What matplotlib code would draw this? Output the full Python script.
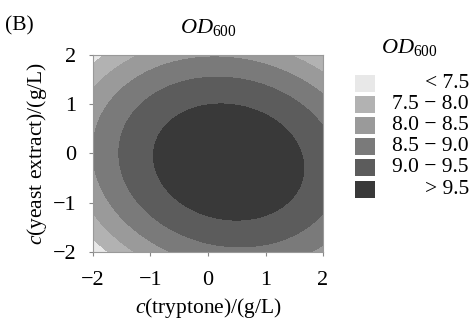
import numpy as np
import matplotlib
matplotlib.use("Agg")
import matplotlib.pyplot as plt

plt.rcParams['font.family'] = ['Liberation Serif', 'DejaVu Serif']
plt.rcParams['mathtext.fontset'] = 'custom'
plt.rcParams['mathtext.rm'] = 'Liberation Serif'
plt.rcParams['mathtext.it'] = 'Liberation Serif:italic'

# response surface coefficients (coded levels)
b0 = 9.90
b_tryp = 0.177
b_yeast = -0.09
b_tryp2 = -0.26
b_yeast2 = -0.32
b_inter = -0.06

levels = [6.0, 7.5, 8.0, 8.5, 9.0, 9.5, 11.0]
band_colors = ['#e8e8e8', '#b2b2b2', '#9a9a9a', '#7a7a7a', '#5c5c5c', '#393939']
band_labels = ['< 7.5', '7.5 \u2212 8.0', '8.0 \u2212 8.5', '8.5 \u2212 9.0',
               '9.0 \u2212 9.5', '> 9.5']
ticks = [-2, -1, 0, 1, 2]

tryptone = np.linspace(-2, 2, 201)
yeast = np.linspace(-2, 2, 201)
X, Y = np.meshgrid(tryptone, yeast)
OD = (b0 + b_tryp * X + b_yeast * Y + b_tryp2 * X**2 + b_yeast2 * Y**2
      + b_inter * X * Y)

fig = plt.figure(figsize=(4.73, 3.21), dpi=100)
ax = fig.add_axes([0.1966, 0.215, 0.4863, 0.614])
ax.contourf(X, Y, OD, levels=levels, colors=band_colors)
ax.set_xlim(-2, 2)
ax.set_ylim(-2, 2)
ax.set_xticks(ticks)
ax.set_yticks(ticks)
ax.set_xticklabels(['\u2212%d' % -t if t < 0 else str(t) for t in ticks])
ax.set_yticklabels(['\u2212%d' % -t if t < 0 else str(t) for t in ticks])
ax.tick_params(direction='out', length=3, width=0.8, color='#888888',
               labelsize=16)
ax.tick_params(axis='x', pad=11)
ax.tick_params(axis='y', pad=9)
for s in ax.spines.values():
    s.set_color('#999999')
    s.set_linewidth(0.8)
ax.set_xlabel(r'$c$(tryptone)/(g/L)', fontsize=15.5, labelpad=4)
ax.set_ylabel(r'$c$(yeast extract)/(g/L)', fontsize=15.5, labelpad=3)
ax.set_title(r'$\mathit{OD}_{600}$', fontsize=16, pad=16)

fig.text(0.01, 0.918, '(B)', fontsize=15.5, va='center', ha='left')

# legend drawn as a small bar axes
lax = fig.add_axes([0.7505, 0.378, 0.243, 0.396])
rows = np.arange(len(band_colors))
lax.barh(rows, 20, height=0.8, left=0, color=band_colors)
for r, lab in zip(rows, band_labels):
    lax.text(114, r, lab, ha='right', va='center', fontsize=15.5)
lax.set_xlim(0, 115)
lax.set_ylim(len(band_colors) - 0.5, -0.5)
lax.axis('off')
fig.text(0.865, 0.853, r'$\mathit{OD}_{600}$', fontsize=16, ha='center',
         va='center')

fig.savefig('out.png', dpi=100)
